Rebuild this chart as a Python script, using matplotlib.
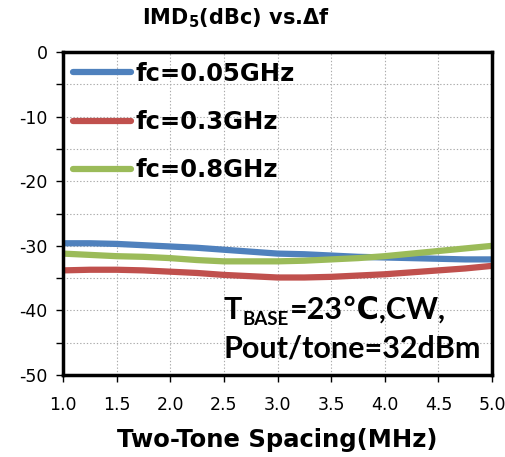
import matplotlib.pyplot as plt
from matplotlib.ticker import MultipleLocator, FuncFormatter

# two-tone spacing (MHz)
spacing = [1.0, 1.25, 1.5, 1.75, 2.0, 2.25, 2.5, 2.75, 3.0, 3.25, 3.5, 3.75, 4.0, 4.25, 4.5, 4.75, 5.0]

# IMD5 (dBc)
imd_005 = [-29.6, -29.6, -29.7, -29.9, -30.1, -30.3, -30.6, -30.9, -31.2, -31.3, -31.5, -31.7, -31.8, -31.9, -32.0, -32.1, -32.1]
imd_03 = [-33.8, -33.7, -33.7, -33.8, -34.0, -34.2, -34.5, -34.7, -34.9, -34.9, -34.8, -34.6, -34.4, -34.1, -33.8, -33.5, -33.1]
imd_08 = [-31.2, -31.4, -31.6, -31.7, -31.9, -32.2, -32.4, -32.4, -32.4, -32.3, -32.1, -31.9, -31.6, -31.2, -30.8, -30.4, -30.0]

labels = ["fc=0.05GHz", "fc=0.3GHz", "fc=0.8GHz"]
colors = ["#4F81BD", "#C0504D", "#9BBB59"]

fig = plt.figure(figsize=(5.05, 4.57), dpi=100)
ax = fig.add_axes([0.1248, 0.1794, 0.8495, 0.7066])

for y, lab, c in zip([imd_005, imd_03, imd_08], labels, colors):
    ax.plot(spacing, y, color=c, lw=4.5, label=lab, solid_capstyle="round")

ax.set_xlim(1.0, 5.0)
ax.set_ylim(-50, 0)
ax.xaxis.set_major_locator(MultipleLocator(0.5))
ax.yaxis.set_major_locator(MultipleLocator(5))
ax.yaxis.set_major_formatter(FuncFormatter(lambda v, p: "%d" % v if v % 10 == 0 else ""))
ax.xaxis.set_major_formatter(FuncFormatter(lambda v, p: "%.1f" % v))
ax.grid(True, color="#aaaaaa", linestyle=(0, (1.2, 1.8)), linewidth=0.8)
ax.tick_params(direction="out", length=5, width=1, labelsize=12.5)
ax.tick_params(axis="x", pad=10)
ax.tick_params(axis="y", pad=6)
for s in ax.spines.values():
    s.set_linewidth(2.5)

fig.text(0.467, 0.96, r"IMD$_\mathbf{5}$(dBc) vs.Δf", fontsize=15, fontweight="bold",
         ha="center", va="center")
ax.set_xlabel("Two-Tone Spacing(MHz)", fontsize=17.5, fontweight="bold", labelpad=10)

leg = ax.legend(loc="upper left", frameon=False, handlelength=2.4, handletextpad=0.2,
                labelspacing=1.0, borderaxespad=0.0,
                prop={"weight": "bold", "size": 17.5})

fam = ["Lato", "DejaVu Sans"]
t1 = ax.text(2.50, -41.3, "T", fontsize=22, fontweight="bold", family=fam,
             va="baseline", ha="left")
t2 = ax.annotate("BASE", xy=(1, 0), xycoords=t1, xytext=(0.5, -3), textcoords="offset points",
                 fontsize=13.5, fontweight="bold", family=fam, va="bottom", ha="left")
ax.annotate("=23℃,CW,", xy=(1, 0), xycoords=(t2, t1), xytext=(0.5, 0), textcoords="offset points",
            fontsize=22, fontweight="bold", family=fam, va="bottom", ha="left")
ax.text(2.50, -47.3, "Pout/tone=32dBm", fontsize=22, fontweight="bold",
        family=fam, va="baseline", ha="left")

plt.savefig("out.png", dpi=100)
